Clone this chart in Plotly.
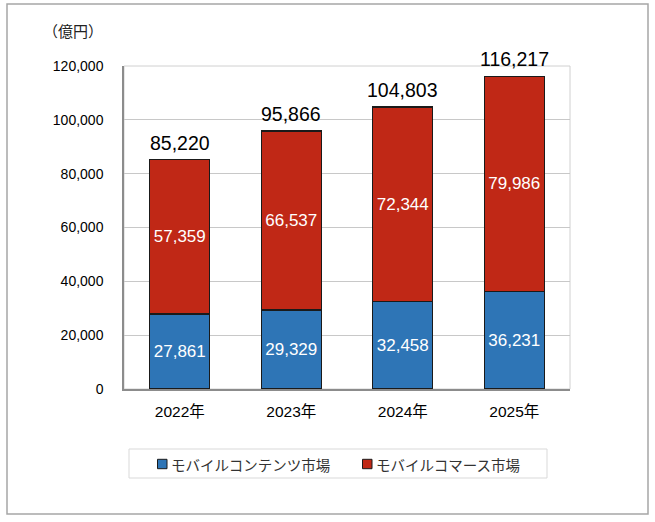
import plotly.graph_objects as go

years = ["2022年", "2023年", "2024年", "2025年"]
contents = [27861, 29329, 32458, 36231]
commerce = [57359, 66537, 72344, 79986]
totals = [85220, 95866, 104803, 116217]
y_ticks = [0, 20000, 40000, 60000, 80000, 100000, 120000]
series_names = ["モバイルコンテンツ市場", "モバイルコマース市場"]
series_colors = ["#2E75B6", "#C02816"]

font_family = "Liberation Sans, Arial, Noto Sans CJK JP"

# plot area in pixels, used to place the frame and legend box
W, H = 655, 522
L, R, T, B = 124, 570, 66, 389
pw, ph = R - L, B - T


def px_x(x):
    return (x - L) / pw


def px_y(y):
    return (B - y) / ph


fig = go.Figure()

for name, vals, col in zip(series_names, [contents, commerce], series_colors):
    fig.add_trace(go.Bar(
        x=years, y=vals, name=name,
        marker=dict(color=col, line=dict(color="#1a1a1a", width=1.2)),
        text=[f"{v:,}" for v in vals], textposition="inside",
        insidetextanchor="middle", textangle=0,
        textfont=dict(color="white", size=17, family=font_family),
    ))

# totals above the stacks
for yr, t in zip(years, totals):
    fig.add_annotation(x=yr, y=t, text=f"{t:,}", showarrow=False,
                       yanchor="bottom", yshift=4,
                       font=dict(size=19.5, color="black", family=font_family))

# unit label
fig.add_annotation(x=px_x(73), y=px_y(30), xref="paper", yref="paper",
                   xanchor="center", yanchor="middle",
                   text="（億円）", showarrow=False,
                   font=dict(size=15, color="#222", family="Noto Sans CJK JP"))

shapes = [
    # outer frame
    dict(type="rect", xref="paper", yref="paper",
         x0=px_x(7), x1=px_x(648), y0=px_y(514), y1=px_y(4),
         line=dict(color="#a6a6a6", width=1.5), layer="below"),
    # plot frame top/right
    dict(type="rect", xref="paper", yref="paper", x0=0, x1=1, y0=0, y1=1,
         line=dict(color="#d0d0d0", width=1), layer="below"),
    # legend box
    dict(type="rect", xref="paper", yref="paper",
         x0=px_x(129), x1=px_x(547), y0=px_y(478), y1=px_y(449),
         line=dict(color="#d9d9d9", width=1)),
]

# hand-made legend: small square + label
legend_x = [157.5, 362.5]
for lx, name, col in zip(legend_x, series_names, series_colors):
    shapes.append(dict(type="rect", xref="paper", yref="paper",
                       x0=px_x(lx), x1=px_x(lx + 9.5),
                       y0=px_y(468.7), y1=px_y(459.3),
                       fillcolor=col, line=dict(color="#1a1a1a", width=1)))
    fig.add_annotation(x=px_x(lx + 11), y=px_y(464), xref="paper", yref="paper",
                       xanchor="left", yanchor="middle", text=name,
                       showarrow=False,
                       font=dict(size=14.5, color="#333", family="Noto Sans CJK JP"))

fig.update_layout(
    width=W, height=H,
    barmode="stack", bargap=0.46,
    plot_bgcolor="white", paper_bgcolor="white",
    margin=dict(l=L, r=W - R, t=T, b=H - B),
    font=dict(family=font_family, color="black", size=13),
    shapes=shapes,
    showlegend=False,
)

fig.update_yaxes(range=[0, 120000], tickvals=y_ticks,
                 ticktext=[f"{v:,}" for v in y_ticks],
                 showgrid=True, gridcolor="#c8c8c8", gridwidth=1,
                 showline=True, linecolor="#8c8c8c", linewidth=1.5,
                 ticks="", ticklabelstandoff=16, zeroline=False,
                 tickfont=dict(size=14))
fig.update_xaxes(showline=True, linecolor="#8c8c8c", linewidth=1.5,
                 ticks="", ticklabelstandoff=8,
                 tickfont=dict(size=15.5))

# drop the default page margin so the figure sits at the window corner
fig.write_html("out.html", config={"displayModeBar": False},
               post_script="document.body.style.margin='0px';")
